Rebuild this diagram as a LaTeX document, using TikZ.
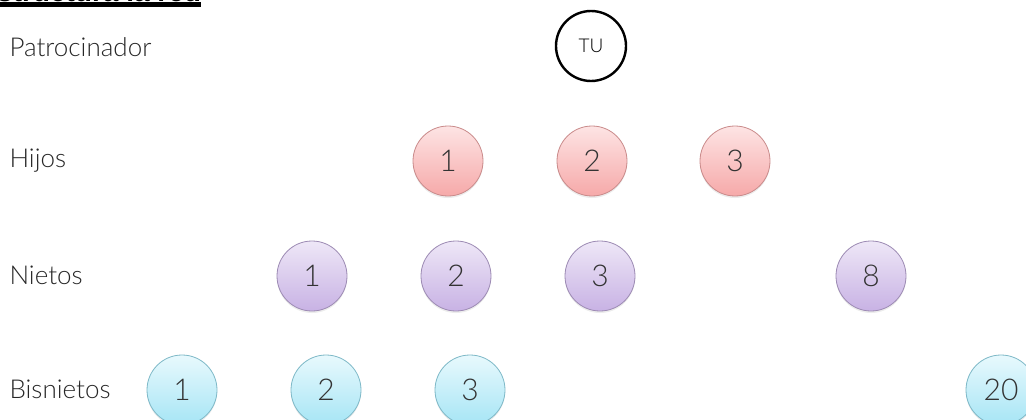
\documentclass[tikz,border=0pt]{standalone}
\usepackage{fontspec}
\setmainfont{Lato Light}
\newfontfamily\titlefont{Liberation Sans}
\usetikzlibrary{shadows}
\definecolor{pinkT}{HTML}{FDE4E4}
\definecolor{pinkB}{HTML}{F6A9A9}
\definecolor{pinkD}{HTML}{C98A8A}
\definecolor{purT}{HTML}{EEE7F7}
\definecolor{purB}{HTML}{C8B2E4}
\definecolor{purD}{HTML}{9C8AB3}
\definecolor{cyT}{HTML}{E8F9FD}
\definecolor{cyB}{HTML}{A6E5F5}
\definecolor{cyD}{HTML}{7DB8C7}
\tikzset{
  lbl/.style={anchor=west,font=\fontsize{26}{30}\selectfont,text=black!85},
  ball/.style={circle,minimum size=70pt,inner sep=0pt,line width=0.8pt,
    font=\fontsize{30}{34}\selectfont,text=black!80,
    drop shadow={shadow xshift=0pt,shadow yshift=-2pt,opacity=0.15}},
  hijo/.style={ball,draw=pinkD,top color=pinkT,bottom color=pinkB},
  nieto/.style={ball,draw=purD,top color=purT,bottom color=purB},
  bis/.style={ball,draw=cyD,top color=cyT,bottom color=cyB},
  tu/.style={circle,minimum size=70pt,inner sep=0pt,draw=black,line width=2.4pt,
    font=\fontsize{19}{22}\selectfont},
}
\begin{document}
\begin{tikzpicture}[x=1pt,y=-1pt]
\useasboundingbox (0,0) rectangle (1026,420);
\clip (0,0) rectangle (1026,420);
% title (cut off at the top)
\node[anchor=base west,inner sep=0pt,font=\titlefont\bfseries\fontsize{28}{32}\selectfont] (title) at (-3,1.8) {structura la red};
\draw[line width=5.5pt] ([yshift=-2.8pt]title.base west) -- ([yshift=-2.8pt]title.base east);
% labels
\node[lbl] (lp) at (6,47) {Patrocinador};
\node[lbl] (lh) at (6,161) {Hijos};
\node[lbl] (ln) at (6,275) {Nietos};
\node[lbl] (lb) at (6,389) {Bisnietos};
% sponsor
\node[tu] (tu) at (591,46) {TU};
% hijos
\node[hijo] (h1) at (448,161) {1};
\node[hijo] (h2) at (592,161) {2};
\node[hijo] (h3) at (735,161) {3};
% nietos
\node[nieto] (n1) at (312,276) {1};
\node[nieto] (n2) at (456,276) {2};
\node[nieto] (n3) at (600,276) {3};
\node[nieto] (n8) at (871,276) {8};
% bisnietos
\node[bis] (b1) at (182,390) {1};
\node[bis] (b2) at (326,390) {2};
\node[bis] (b3) at (470,390) {3};
\node[bis] (b20) at (1001,390) {20};
\end{tikzpicture}
\end{document}
